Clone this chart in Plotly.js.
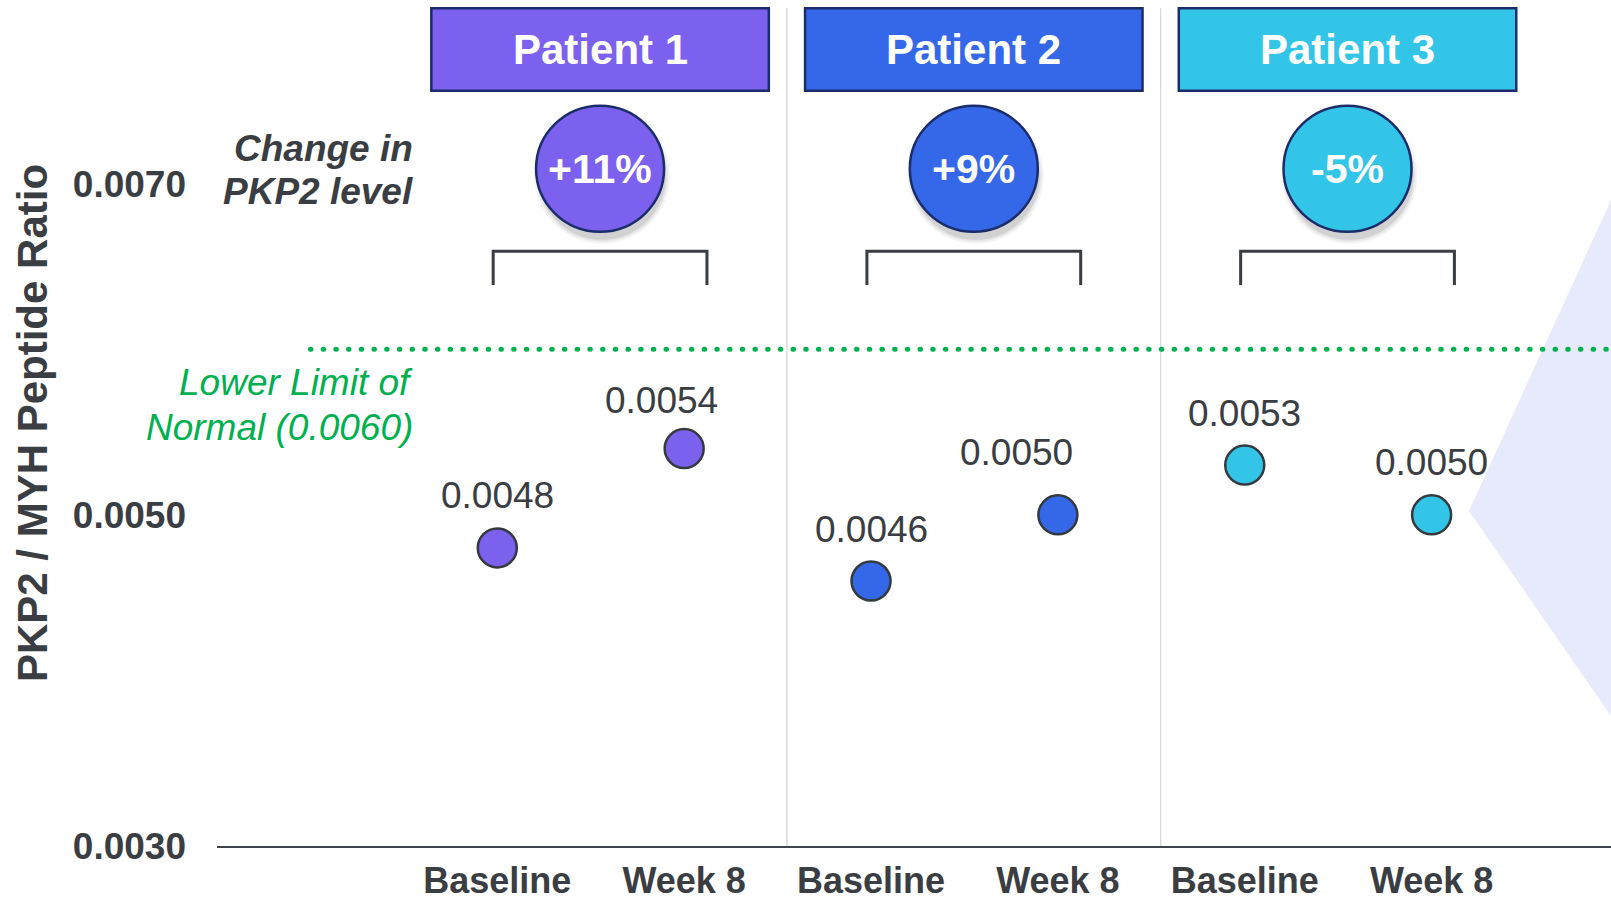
<!DOCTYPE html>
<html>
<head>
<meta charset="utf-8">
<script src="https://cdn.plot.ly/plotly-3.0.1.min.js"></script>
<style>
  html, body { margin: 0; padding: 0; background: #ffffff; }
  #chart { width: 1611px; height: 906px; }
</style>
</head>
<body>
<div id="chart"></div>
<script>
// ---- data ----
const patients = ['Patient 1', 'Patient 2', 'Patient 3'];
const timepoints = ['Baseline', 'Week 8'];
const baselineRatio = [0.0048, 0.0046, 0.0053];
const week8Ratio = [0.0054, 0.0050, 0.0050];
const pctChange = ['+11%', '+9%', '-5%'];
const lowerLimit = 0.0060;
const yTickVals = [0.0030, 0.0050, 0.0070];
const yTickText = ['0.0030', '0.0050', '0.0070'];

// ---- styling ----
const patientColors = ['#7b61ee', '#3568e8', '#33c5e8'];
const navy = '#1b2c6b';
const ink = '#3a3d42';
const green = '#00b050';
const FONT = '"Liberation Sans", Arial, Helvetica, sans-serif';

const yRange = [0.0030, 0.0081087];
const xRange = [-1.5, 5.96];
const groupShift = 0.05;           // panel decorations sit a touch right of the pair midpoint

// value-label placement per patient: [baseline, week 8] as [dx, dy] pixel nudges
const labelNudge = [
  [[0, 52], [-23, 48]],
  [[0, 52], [-41, 62]],
  [[0, 52], [0, 52]]
];

// x positions: two timepoints per patient
const xIdx = (p, t) => 2 * p + t;
const groupCenter = p => 2 * p + 0.5 + groupShift;

// ---- traces ----
const traces = patients.map((name, p) => ({
  type: 'scatter',
  mode: 'markers',
  name: name,
  x: timepoints.map((_, t) => xIdx(p, t)),
  y: [baselineRatio[p], week8Ratio[p]],
  marker: { size: 39, color: patientColors[p], line: { color: '#34393e', width: 2.5 } },
  cliponaxis: false,
  hoverinfo: 'skip'
}));

// ---- shapes ----
const shapes = [];

// panel separators
for (let p = 0; p < patients.length - 1; p++) {
  const sx = 2 * p + 1.5 + groupShift;
  shapes.push({
    type: 'line', layer: 'below', xref: 'x', yref: 'paper',
    x0: sx, x1: sx, y0: 0, y1: 0.9905,
    line: { color: '#d9d9d9', width: 1.5 }
  });
}

// lower limit of normal
shapes.push({
  type: 'line', layer: 'below', xref: 'x', yref: 'y',
  x0: -1, x1: xRange[1], y0: lowerLimit, y1: lowerLimit,
  line: { color: green, width: 5, dash: '0.5px,12.2px' }
});

// pale wedge at the right edge
shapes.push({
  type: 'path', layer: 'below', xref: 'paper', yref: 'paper',
  path: 'M 1 0.7636 L 0.8981 0.396 L 1 0.1537 Z',
  fillcolor: 'rgba(180,192,240,0.33)', line: { width: 0 }
});

const circY = 0.8005;
patients.forEach((name, p) => {
  const c = groupCenter(p);
  // header box
  shapes.push({
    type: 'rect', xref: 'x', yref: 'paper',
    x0: c - 0.903, x1: c + 0.903, y0: 0.8928, y1: 0.9902,
    fillcolor: patientColors[p], line: { color: navy, width: 2.5 }
  });
  // soft shadow under the change badge
  [[68, 0.05], [66, 0.08], [64, 0.12]].forEach(([r, op]) => {
    shapes.push({
      type: 'circle', xref: 'x', yref: 'paper',
      xsizemode: 'pixel', ysizemode: 'pixel',
      xanchor: c, yanchor: circY,
      x0: -r + 2, x1: r + 2, y0: -r - 7, y1: r - 7,
      fillcolor: 'rgba(60,60,60,' + op + ')', line: { width: 0 }
    });
  });
  // change badge
  shapes.push({
    type: 'circle', xref: 'x', yref: 'paper',
    xsizemode: 'pixel', ysizemode: 'pixel',
    xanchor: c, yanchor: circY,
    x0: -64, x1: 64, y0: -63, y1: 63,
    fillcolor: patientColors[p], line: { color: navy, width: 2.5 }
  });
  // bracket spanning both timepoints
  const bx0 = c - 0.572, bx1 = c + 0.572;
  shapes.push({
    type: 'path', xref: 'x', yref: 'paper',
    path: `M ${bx0} 0.6631 L ${bx0} 0.703 L ${bx1} 0.703 L ${bx1} 0.6631`,
    line: { color: ink, width: 3 }
  });
});

// ---- annotations ----
const annotations = [];
patients.forEach((name, p) => {
  const c = groupCenter(p);
  annotations.push({
    xref: 'x', yref: 'paper', x: c, y: 0.9411, xanchor: 'center', yanchor: 'middle',
    text: '<b>' + name + '</b>', showarrow: false,
    font: { family: FONT, size: 42, color: '#ffffff' }
  });
  annotations.push({
    xref: 'x', yref: 'paper', x: c, y: circY, xanchor: 'center', yanchor: 'middle',
    text: '<b>' + pctChange[p] + '</b>', showarrow: false,
    font: { family: FONT, size: 41, color: '#ffffff' }
  });
  // value labels above each point
  [baselineRatio[p], week8Ratio[p]].forEach((v, t) => {
    annotations.push({
      xref: 'x', yref: 'y', x: xIdx(p, t), y: v,
      xanchor: 'center', yanchor: 'middle',
      xshift: labelNudge[p][t][0], yshift: labelNudge[p][t][1],
      text: v.toFixed(4), showarrow: false,
      font: { family: FONT, size: 37, color: ink }
    });
  });
});

const sideLabels = [
  { text: '<b><i>Change in</i></b>', y: 0.8245, color: ink },
  { text: '<b><i>PKP2 level</i></b>', y: 0.7733, color: ink },
  { text: '<i>Lower Limit of</i>', y: 0.5473, color: green },
  { text: '<i>Normal (0.0060)</i>', y: 0.4947, color: green }
];
sideLabels.forEach(l => annotations.push({
  xref: 'paper', yref: 'paper', x: 0.1417, y: l.y, xanchor: 'right', yanchor: 'middle',
  text: l.text, showarrow: false, align: 'right',
  font: { family: FONT, size: 37, color: l.color }
}));

// ---- layout ----
const layout = {
  width: 1611, height: 906,
  margin: { l: 217, r: 0, t: 0, b: 60, pad: 0 },
  paper_bgcolor: '#ffffff', plot_bgcolor: '#ffffff',
  showlegend: false,
  hovermode: false,
  font: { family: FONT, color: ink },
  xaxis: {
    range: xRange, showgrid: false, zeroline: false,
    showline: true, linecolor: '#404448', linewidth: 2,
    ticks: '', tickmode: 'array',
    tickvals: patients.flatMap((_, p) => timepoints.map((_, t) => xIdx(p, t))),
    ticktext: patients.flatMap(() => timepoints.map(t => '<b>' + t + '</b>')),
    tickfont: { family: FONT, size: 36, color: ink },
    ticklabelstandoff: 2
  },
  yaxis: {
    range: yRange, showgrid: false, zeroline: false, showline: false,
    ticks: '', tickmode: 'array', tickvals: yTickVals,
    ticktext: yTickText.map(t => '<b>' + t + '</b>'),
    tickfont: { family: FONT, size: 37, color: ink },
    ticklabelstandoff: 30,
    title: {
      text: '<b>PKP2 / MYH Peptide Ratio</b>',
      font: { family: FONT, size: 42, color: ink },
      standoff: 12
    }
  },
  shapes: shapes,
  annotations: annotations
};

Plotly.newPlot('chart', traces, layout, { staticPlot: true, displayModeBar: false }).then(gd => {
  // round caps turn the short dashes of the limit line into dots
  gd.querySelectorAll('path').forEach(el => {
    const da = el.style.strokeDasharray || '';
    if (da.indexOf('12.2') !== -1) el.style.strokeLinecap = 'round';
  });
});
</script>
</body>
</html>
